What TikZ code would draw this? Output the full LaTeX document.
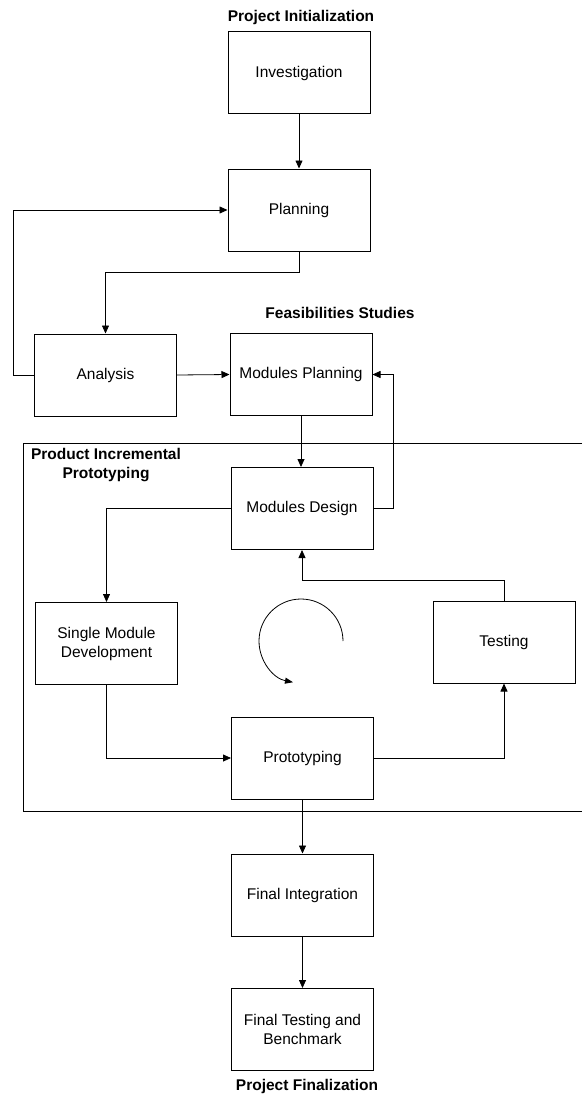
\documentclass[tikz,border=0pt]{standalone}
\usepackage{fontspec}
\setmainfont{Liberation Sans}
\usetikzlibrary{arrows.meta}
\begin{document}
\begin{tikzpicture}[x=1pt,y=-1pt,
  box/.style={draw, line width=1pt, minimum width=142pt, minimum height=82pt, inner sep=0pt, align=center, font=\fontsize{15.5}{19}\selectfont},
  ttl/.style={font=\fontsize{15.5}{19}\selectfont\bfseries, align=center, inner sep=0pt},
  conn/.style={line width=0.8pt},
  arr/.style={conn, -{Triangle[length=8pt,width=7pt]}},
  frame/.style={line width=0.8pt}
]
\useasboundingbox (0,0) rectangle (582,1097);
% boxes
\node[box] (inv) at (299,73) {Investigation};
\node[box] (plan) at (299,210) {Planning};
\node[box] (ana) at (105.5,375) {Analysis};
\node[box] (mp) at (301,374.5) {Modules Planning};
\node[box] (md) at (302,508.5) {Modules Design};
\node[box] (smd) at (106.5,643.5) {Single Module\\Development};
\node[box] (test) at (504,642) {Testing};
\node[box] (proto) at (302.5,758) {Prototyping};
\node[box] (fi) at (302.5,895) {Final Integration};
\node[box] (ftb) at (302.5,1029.5) {Final Testing and\\Benchmark};
% titles
\node[ttl] (t1) at (301,17) {Project Initialization};
\node[ttl] (t2) at (340,313) {Feasibilities Studies};
\node[ttl] (t3) at (106,465.5) {Product Incremental\\Prototyping};
\node[ttl] (t4) at (307,1086) {Project Finalization};
% frame
\draw[frame] (582,443) -- (23,443) -- (23,811) -- (582,811);
% helper coordinates
\coordinate (pa) at (0,272);
\coordinate (fb) at (13,0);
\coordinate (lp) at (393,0);
\coordinate (tm) at (0,580);
\coordinate (cc) at (301,641);
% connectors
\draw[arr] (inv.south) -- (plan.north);
\draw[arr] (plan.south) -- (plan.south |- pa) -| (ana.north);
\draw[arr] (ana.west) -- (ana.west -| fb) |- (plan.west);
\draw[arr] (ana.east) -- (mp.west);
\draw[arr] (mp.south) -- (mp.south |- md.north);
\draw[arr] (md.east) -- (md.east -| lp) |- (mp.east);
\draw[arr] (md.west) -| (smd.north);
\draw[arr] (smd.south) |- (proto.west);
\draw[arr] (proto.east) -| (test.south);
\draw[arr] (test.north) -- (test.north |- tm) -| (md.south);
\draw[arr] (proto.south) -- (fi.north);
\draw[arr] (fi.south) -- (ftb.north);
% cycle arrow
\draw[conn, -{Triangle[length=8pt,width=6pt]}] ([shift={(0:42)}]cc) arc[start angle=0, end angle=-259, radius=42];
\end{tikzpicture}
\end{document}
